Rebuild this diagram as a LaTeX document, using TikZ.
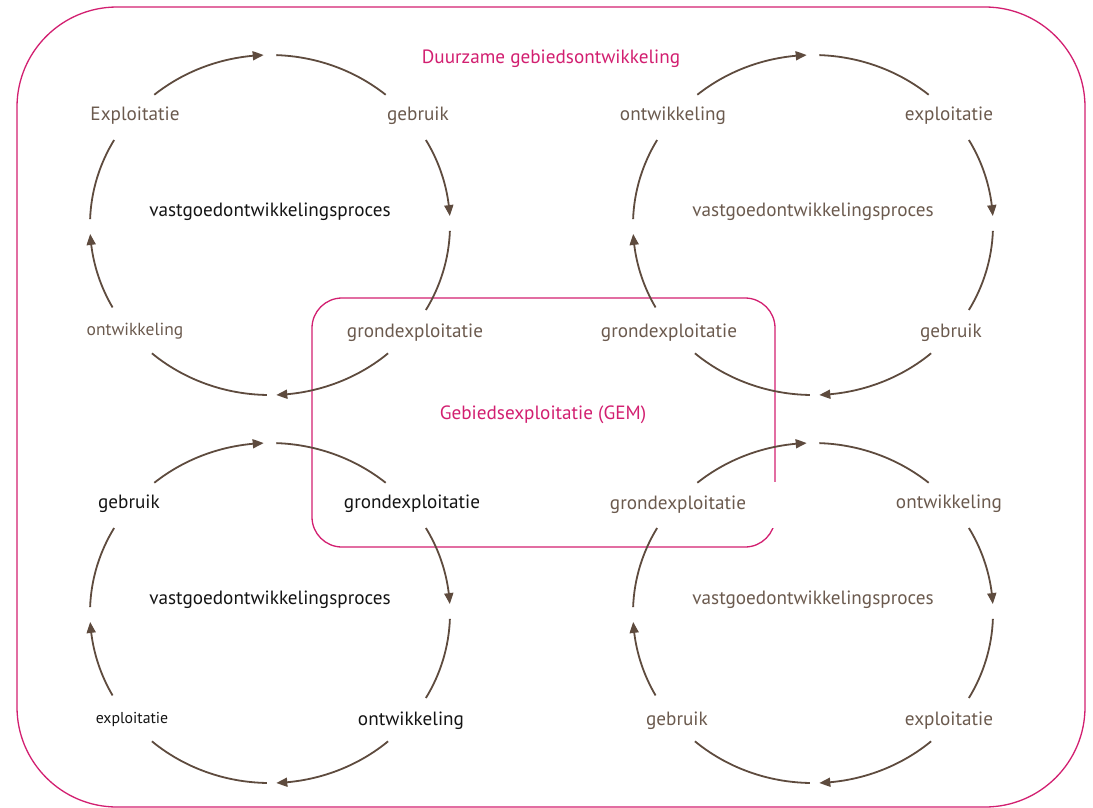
\documentclass[tikz,border=0pt]{standalone}
\usepackage{fontspec}
\setmainfont{PT Sans}
\usetikzlibrary{arrows.meta,bending}

\definecolor{ringbrown}{HTML}{5E4B3E}
\definecolor{labelbrown}{HTML}{6B5A4E}
\definecolor{labelblack}{HTML}{141414}
\definecolor{framemagenta}{HTML}{D21F70}

\tikzset{
  ring/.style={draw=ringbrown, line width=1.8pt},
  ringtip/.style={ring, -{Triangle[length=11pt,width=9pt,bend]}},
  frame/.style={draw=framemagenta, line width=1.3pt},
  lbl/.style={inner sep=0pt, yshift=-2.5pt, font=\fontsize{19.2}{22}\selectfont, text=labelbrown},
  lbldark/.style={lbl, text=labelblack},
  title/.style={inner sep=0pt, yshift=-1.5pt, font=\fontsize{19.2}{22}\selectfont, text=framemagenta},
}

% one clockwise cycle of four arrowed arcs around a centre coordinate
\newcommand\cyclering[1]{%
  \draw[ringtip] (#1) ++(230:180 and 170) arc[start angle=230, end angle=268, x radius=180, y radius=170];
  \draw[ring]    (#1) ++(272:180 and 170) arc[start angle=272, end angle=310, x radius=180, y radius=170];
  \draw[ringtip] (#1) ++(330:180 and 170) arc[start angle=330, end angle=357, x radius=180, y radius=170];
  \draw[ring]    (#1) ++(2:180 and 170)   arc[start angle=2,   end angle=30,  x radius=180, y radius=170];
  \draw[ringtip] (#1) ++(49:180 and 170)  arc[start angle=49,  end angle=88,  x radius=180, y radius=170];
  \draw[ring]    (#1) ++(91:180 and 170)  arc[start angle=91,  end angle=131, x radius=180, y radius=170];
  \draw[ringtip] (#1) ++(151:180 and 170) arc[start angle=151, end angle=177, x radius=180, y radius=170];
  \draw[ring]    (#1) ++(182:180 and 170) arc[start angle=182, end angle=210, x radius=180, y radius=170];
}

\begin{document}
\begin{tikzpicture}[x=1pt, y=-1pt]
  \useasboundingbox (0,0) rectangle (1093,807);

  % outer frame and inner GEM frame
  \draw[frame, rounded corners=100pt] (17,7) rectangle (1085,807);
  \draw[frame, rounded corners=30pt] (312,298) rectangle (775,547);

  \node[title] (duurzaam) at (551,57) {Duurzame gebiedsontwikkeling};
  \node[title] (gem) at (543,413) {Gebiedsexploitatie (GEM)};

  % centres of the four cycles
  \coordinate (ctl) at (270,225);
  \coordinate (ctr) at (813,225);
  \coordinate (cbl) at (270,613);
  \coordinate (cbr) at (813,613);

  % top left cycle
  \node[lbl] (tlExp)  at (135,113) {Exploitatie};
  \node[lbl] (tlGeb)  at (418,113) {gebruik};
  \node[lbl, font=\fontsize{17.5}{20}\selectfont] (tlOnt) at (135,329) {ontwikkeling};
  \node[lbl] (tlGrond) at (415,330) {grondexploitatie};
  \node[lbldark] (tlProc) at (270,209) {vastgoedontwikkelingsproces};

  % top right cycle
  \node[lbl] (trOnt)  at (673,113) {ontwikkeling};
  \node[lbl] (trExp)  at (949,113) {exploitatie};
  \node[lbl] (trGrond) at (669,330) {grondexploitatie};
  \node[lbl] (trGeb)  at (951,330) {gebruik};
  \node[lbl] (trProc) at (813,209) {vastgoedontwikkelingsproces};

  % bottom left cycle
  \node[lbldark] (blGeb)  at (129,501) {gebruik};
  \node[lbldark] (blGrond) at (412,501) {grondexploitatie};
  \node[lbldark, font=\fontsize{15.8}{18}\selectfont] (blExp) at (132,717) {exploitatie};
  \node[lbldark] (blOnt)  at (411,718) {ontwikkeling};
  \node[lbldark] (blProc) at (270,597) {vastgoedontwikkelingsproces};

  % bottom right cycle (its label box masks part of the GEM frame)
  \node[lbl, fill=white, minimum width=200pt, minimum height=46pt] (brGrond) at (678,502) {grondexploitatie};
  \node[lbl] (brOnt)  at (949,501) {ontwikkeling};
  \node[lbl] (brGeb)  at (677,718) {gebruik};
  \node[lbl] (brExp)  at (949,718) {exploitatie};
  \node[lbl] (brProc) at (813,597) {vastgoedontwikkelingsproces};

  \cyclering{ctl}
  \cyclering{ctr}
  \cyclering{cbl}
  \cyclering{cbr}
\end{tikzpicture}
\end{document}
